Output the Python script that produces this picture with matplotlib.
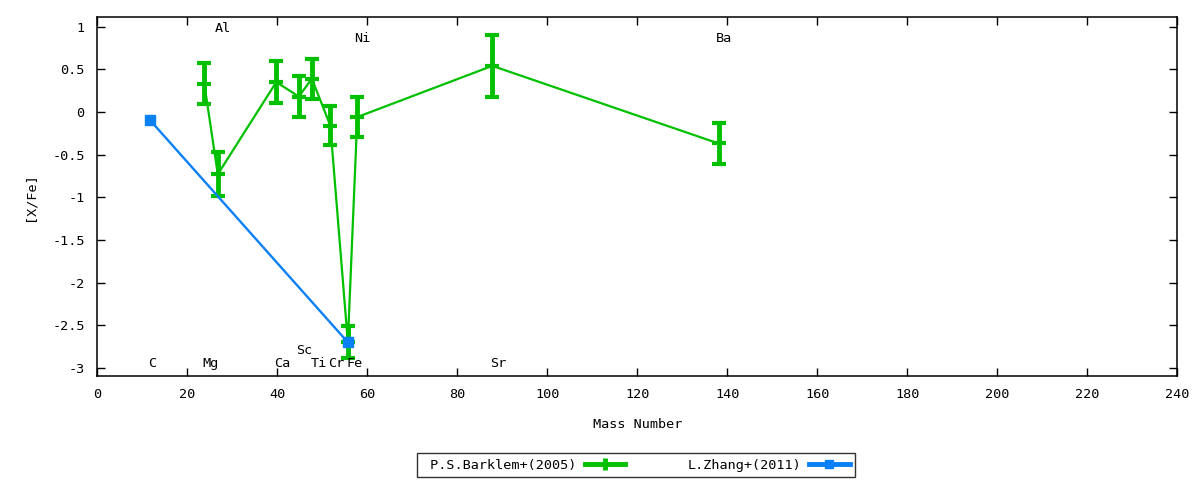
import numpy as np
import matplotlib.pyplot as plt
from matplotlib.lines import Line2D

plt.rcParams['font.family'] = ['DejaVu Sans Mono', 'DejaVu Sans']

# P.S.Barklem+(2005)
bark_mass = [23.8, 26.8, 39.8, 44.8, 47.7, 51.8, 55.7, 57.8, 87.8, 138.1]
bark_xfe = [0.33, -0.73, 0.35, 0.18, 0.39, -0.16, -2.70, -0.06, 0.54, -0.37]
bark_err = [0.24, 0.26, 0.25, 0.24, 0.235, 0.23, 0.19, 0.23, 0.36, 0.24]

# L.Zhang+(2011)
zhang_mass = [11.8, 55.7]
zhang_xfe = [-0.10, -2.70]

# element labels
elem_names = ['C', 'Mg', 'Al', 'Ca', 'Sc', 'Ti', 'Cr', 'Fe', 'Ni', 'Sr', 'Ba']
elem_x = [12.2, 25.2, 28.0, 41.2, 46.0, 49.3, 53.2, 57.1, 59.0, 89.2, 139.2]
elem_y = [-2.95, -2.95, 0.98, -2.95, -2.80, -2.95, -2.95, -2.95, 0.865, -2.95, 0.865]

green = '#00c000'
blue = '#0a80f5'
fs = 9.7

fig = plt.figure(figsize=(12, 4.8), dpi=100)
ax = fig.add_axes([0.081, 0.2167, 0.9, 0.7483])

ax.errorbar(bark_mass, bark_xfe, yerr=bark_err, color=green, lw=1.6,
            elinewidth=3.5, capsize=5, capthick=3.5, marker='_', ms=10, mew=3,
            zorder=3)
ax.plot(zhang_mass, zhang_xfe, color=blue, lw=1.7, marker='s', ms=7, zorder=4)

for name, x, y in zip(elem_names, elem_x, elem_y):
    ax.text(x, y, name, ha='center', va='center', fontsize=fs)

ax.set_xlim(0, 240)
ax.set_ylim(-3.095, 1.115)
ax.set_xticks(np.arange(0, 241, 20))
ax.set_yticks([-3, -2.5, -2, -1.5, -1, -0.5, 0, 0.5, 1])
ax.set_yticklabels(['-3', '-2.5', '-2', '-1.5', '-1', '-0.5', '0', '0.5', '1'])
ax.tick_params(direction='in', length=6, width=1, top=True, right=True,
               labelsize=fs, pad=9)
for s in ax.spines.values():
    s.set_linewidth(1.1)
ax.set_xlabel('Mass Number', fontsize=fs, labelpad=12)
ax.set_ylabel('[X/Fe]', fontsize=fs, labelpad=11)

h1 = Line2D([], [], color=green, lw=3.5, marker='|', ms=8, mew=3.5)
h2 = Line2D([], [], color=blue, lw=3.5, marker='s', ms=6)
leg = fig.legend([h1, h2], [' P.S.Barklem+(2005)', 'L.Zhang+(2011)'],
                 loc='center', bbox_to_anchor=(0.53, 0.031), ncol=2,
                 markerfirst=False, fontsize=fs, frameon=True, fancybox=False,
                 edgecolor='black', borderpad=0.4, handlelength=3.0,
                 columnspacing=4.6, handletextpad=0.6, borderaxespad=0)
leg.get_frame().set_linewidth(1.0)

fig.savefig('out.png', dpi=100)
